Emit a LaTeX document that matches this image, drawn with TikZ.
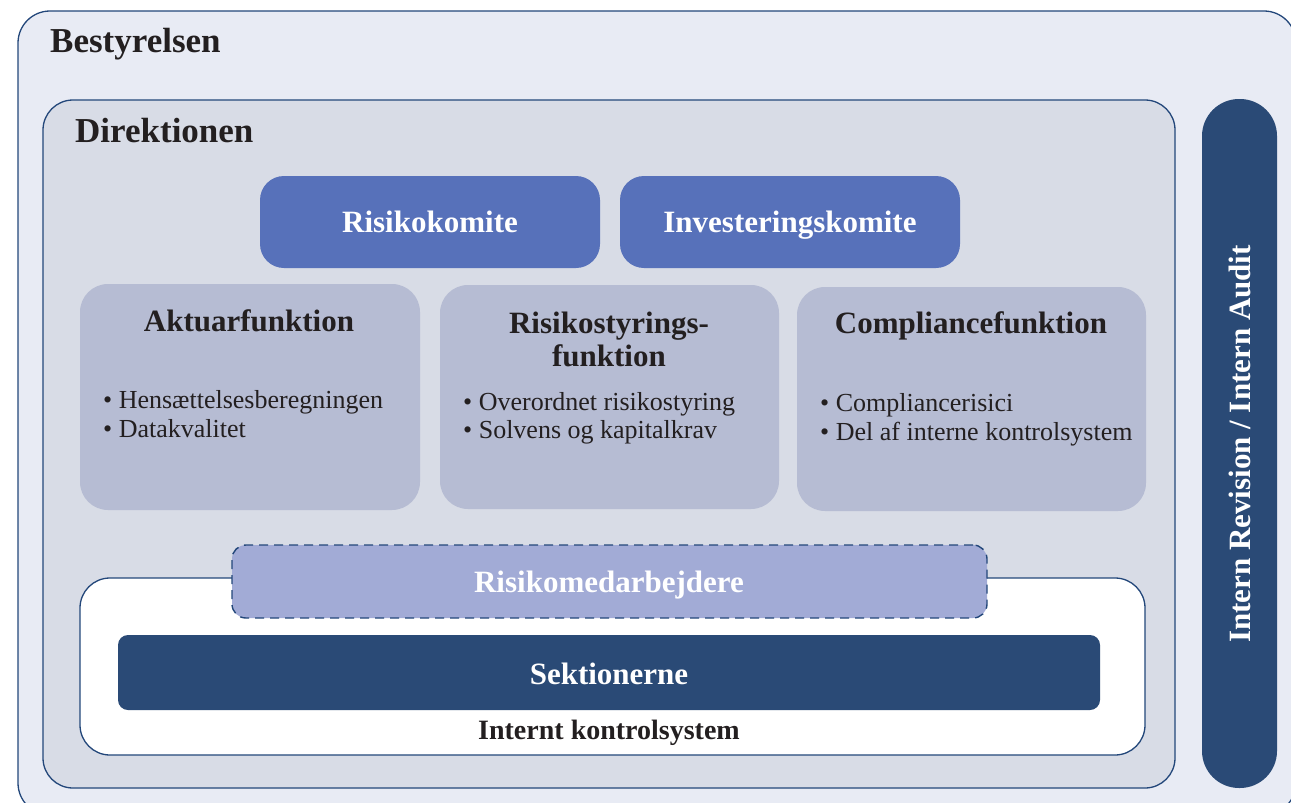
\documentclass[tikz,border=0pt]{standalone}
\usepackage{fontspec}
\setmainfont{Liberation Serif}
\definecolor{outerfill}{HTML}{E8EBF4}
\definecolor{direkfill}{HTML}{D8DCE6}
\definecolor{komfill}{HTML}{5771BA}
\definecolor{funcfill}{HTML}{B6BCD3}
\definecolor{medfill}{HTML}{A2ABD6}
\definecolor{darkblue}{HTML}{2A4A76}
\definecolor{edge}{HTML}{23477A}
\definecolor{ink}{HTML}{231F20}
\begin{document}
\begin{tikzpicture}[x=1pt,y=-1pt,
  box/.style={rectangle, anchor=north west, inner sep=0pt, outer sep=0pt},
  framed/.style={box, draw=edge, line width=1.3pt},
  titletext/.style={anchor=base, inner sep=0pt, font=\fontsize{31}{34}\selectfont\bfseries, text=ink},
  whitetitle/.style={titletext, text=white},
  bigtitle/.style={anchor=base west, inner sep=0pt, font=\fontsize{35}{38}\selectfont\bfseries, text=ink},
  bullettext/.style={anchor=base west, inner sep=0pt, font=\fontsize{26}{29}\selectfont, text=ink}]
\useasboundingbox (0,0) rectangle (1291,803);
\clip (0,0) rectangle (1291,803);
% containers
\node[framed, fill=outerfill, rounded corners=32pt, minimum width=1278pt, minimum height=804pt] (outer) at (18,11) {};
\node[framed, fill=direkfill, rounded corners=30pt, minimum width=1132pt, minimum height=688pt] (direk) at (43,100) {};
\node[box, fill=darkblue, rounded corners=37pt, minimum width=75pt, minimum height=689pt] (bar) at (1202,99) {};
% committees
\node[box, fill=komfill, rounded corners=24pt, minimum width=340pt, minimum height=92pt] (rk) at (260,176) {};
\node[box, fill=komfill, rounded corners=24pt, minimum width=340pt, minimum height=92pt] (ik) at (620,176) {};
% functions
\node[box, fill=funcfill, rounded corners=28pt, minimum width=340pt, minimum height=226pt] (ak) at (80,284) {};
\node[box, fill=funcfill, rounded corners=28pt, minimum width=339pt, minimum height=224pt] (rs) at (440,285) {};
\node[box, fill=funcfill, rounded corners=28pt, minimum width=349pt, minimum height=224pt] (cf) at (797,287) {};
% internal control
\node[framed, fill=white, rounded corners=30pt, minimum width=1065pt, minimum height=177pt] (iks) at (80,578) {};
\node[box, draw=edge, line width=1.4pt, dash pattern=on 9pt off 6pt, fill=medfill, rounded corners=14pt, minimum width=755pt, minimum height=73pt] (rm) at (232,545) {};
\node[box, fill=darkblue, rounded corners=10pt, minimum width=982pt, minimum height=75pt] (sek) at (118,635) {};
% texts
\node[bigtitle] (tbest) at (50,52) {Bestyrelsen};
\node[bigtitle] (tdirek) at (75,142) {Direktionen};
\node[whitetitle] (trk) at (430,232) {Risikokomite};
\node[whitetitle] (tik) at (790,232) {Investeringskomite};
\node[titletext] (tak) at (249,331) {Aktuarfunktion};
\node[titletext] (trs1) at (609,333) {Risikostyrings-};
\node[titletext] (trs2) at (609,366) {funktion};
\node[titletext] (tcf) at (971,333) {Compliancefunktion};
\node[bullettext] (b1) at (103,408) {\textbullet{} Hensættelsesberegningen};
\node[bullettext] (b2) at (103,437) {\textbullet{} Datakvalitet};
\node[bullettext] (b3) at (463,410) {\textbullet{} Overordnet risikostyring};
\node[bullettext] (b4) at (463,438) {\textbullet{} Solvens og kapitalkrav};
\node[bullettext] (b5) at (820,411) {\textbullet{} Compliancerisici};
\node[bullettext] (b6) at (820,440) {\textbullet{} Del af interne kontrolsystem};
\node[whitetitle] (trm) at (609,592) {Risikomedarbejdere};
\node[whitetitle] (tsek) at (609,684) {Sektionerne};
\node[titletext, font=\fontsize{28}{30}\selectfont\bfseries] (tiks) at (609,739) {Internt kontrolsystem};
\node[whitetitle, anchor=center, rotate=90] (tbar) at (1240,444) {Intern Revision / Intern Audit};
\end{tikzpicture}
\end{document}
